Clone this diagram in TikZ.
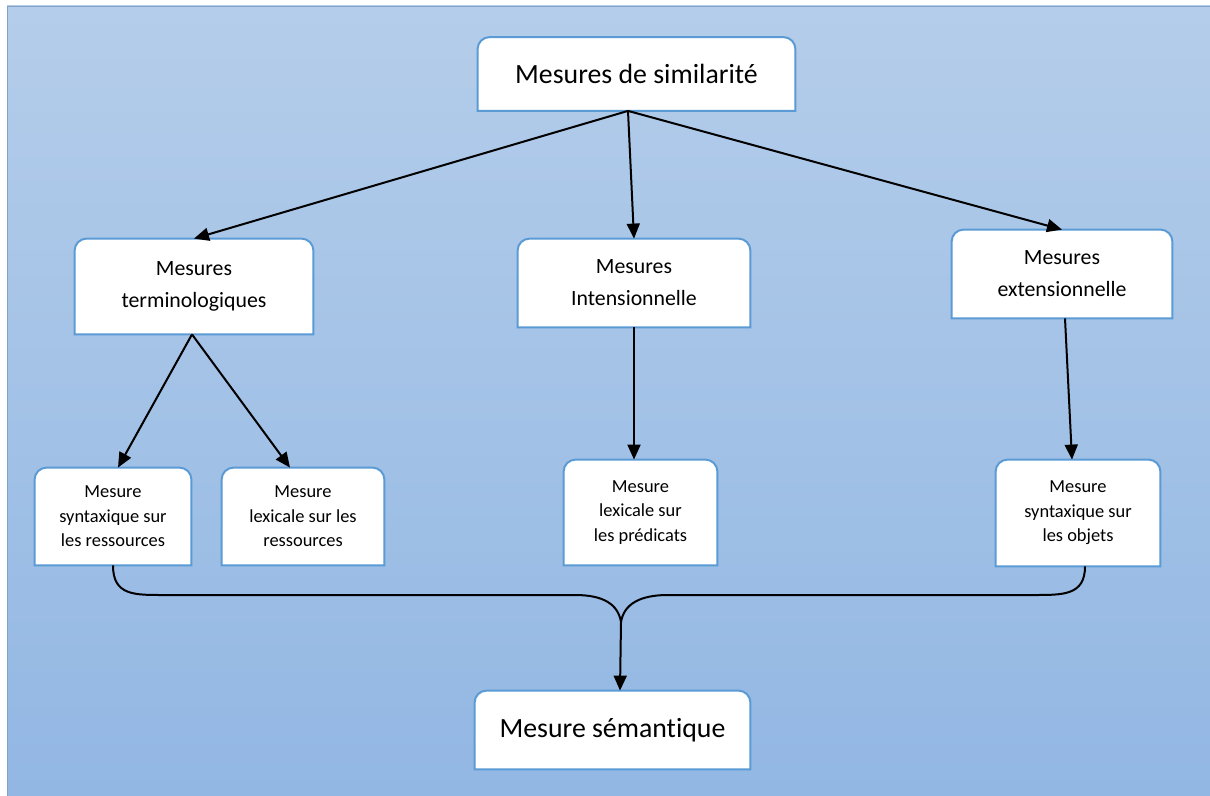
\documentclass[tikz,border=0pt]{standalone}
\usepackage{fontspec}
\setmainfont{Carlito}[Ligatures={NoCommon,NoDiscretionary,NoContextual}]
\usetikzlibrary{arrows.meta,backgrounds}

\definecolor{bgtop}{RGB}{180,205,234}
\definecolor{bgbot}{RGB}{146,183,227}
\definecolor{frameline}{RGB}{130,160,200}
\definecolor{boxblue}{RGB}{91,155,213}

\tikzset{
  big/.style={font=\fontsize{13.9}{17}\selectfont},
  mid/.style={font=\fontsize{10.9}{16}\selectfont},
  small/.style={font=\fontsize{9.2}{12.2}\selectfont},
  tbox/.style={draw=none, fill=none, inner sep=0pt, align=center, text=black},
  tshape/.style={fill=white, draw=boxblue, line width=1pt},
  link/.style={draw=black, line width=1pt, -{Triangle[length=7.5pt,width=6.5pt]}},
  brace/.style={draw=black, line width=1pt},
}

\begin{document}
\begin{tikzpicture}[x=0.5pt, y=-0.5pt]
\useasboundingbox (0,0) rectangle (1210,796);

% boxes
\node[tbox, big, minimum width=158.5pt, minimum height=36.5pt] (top) at (636.5,74) {Mesures de similarité};
\node[tbox, mid, minimum width=119pt, minimum height=47.5pt] (term) at (194,286.5) {Mesures\\terminologiques};
\node[tbox, mid, minimum width=116pt, minimum height=44pt] (int) at (634,283) {Mesures\\Intensionnelle};
\node[tbox, mid, minimum width=110pt, minimum height=44pt] (ext) at (1062,274) {Mesures\\extensionnelle};
\node[tbox, small, minimum width=78pt, minimum height=48.5pt] (synr) at (113,516.5) {Mesure\\syntaxique sur\\les ressources};
\node[tbox, small, minimum width=81pt, minimum height=48.5pt] (lexr) at (303,516.5) {Mesure\\lexicale sur les\\ressources};
\node[tbox, small, minimum width=76.5pt, minimum height=52.5pt] (lexp) at (640.5,512.5) {Mesure\\lexicale sur\\les prédicats};
\node[tbox, small, minimum width=82pt, minimum height=53pt] (syno) at (1078,513) {Mesure\\syntaxique sur\\les objets};
\node[tbox, big, minimum width=137.5pt, minimum height=39pt] (sem) at (612.5,730) {Mesure sémantique};

% backdrop and box outlines, rounded on top only
\begin{scope}[on background layer]
  \shade[top color=bgtop, bottom color=bgbot, draw=frameline, line width=0.4pt] (7,6) rectangle (1210,796);
  \foreach \n in {top,term,int,ext,synr,lexr,lexp,syno,sem}
    \draw[tshape] (\n.south west) [rounded corners=6pt] -- (\n.north west) -- (\n.north east) [sharp corners] -- (\n.south east) -- cycle;
\end{scope}

% upper level links
\coordinate (fork) at ([xshift=-4.25pt]top.south);
\draw[link] (fork) -- (term.north);
\draw[link] (fork) -- (int.north);
\draw[link] (fork) -- (ext.north);

% second level links
\draw[link] ([xshift=-1pt]term.south) -- ([xshift=2.5pt]synr.north);
\draw[link] ([xshift=-1pt]term.south) -- ([xshift=-6.5pt]lexr.north);
\draw[link] (int.south) -- (int.south |- lexp.north);
\draw[link] ([xshift=1.5pt]ext.south) -- ([xshift=-3pt]syno.north);

% merging brace towards the semantic measure
\coordinate (join) at (621,622);
\coordinate (lbend) at (575,595);
\coordinate (rbend) at (668,595);
\draw[brace] (synr.south) .. controls (113,596) and (135,595) .. (165,595) -- (lbend)
  .. controls (603,595) and (618,604) .. (join);
\draw[brace] ([xshift=3.5pt]syno.south) .. controls (1085,596) and (1062,595) .. (1032,595) -- (rbend)
  .. controls (640,595) and (624,604) .. (join);
\draw[link] (join) -- ([xshift=3.75pt]sem.north);
\end{tikzpicture}
\end{document}
